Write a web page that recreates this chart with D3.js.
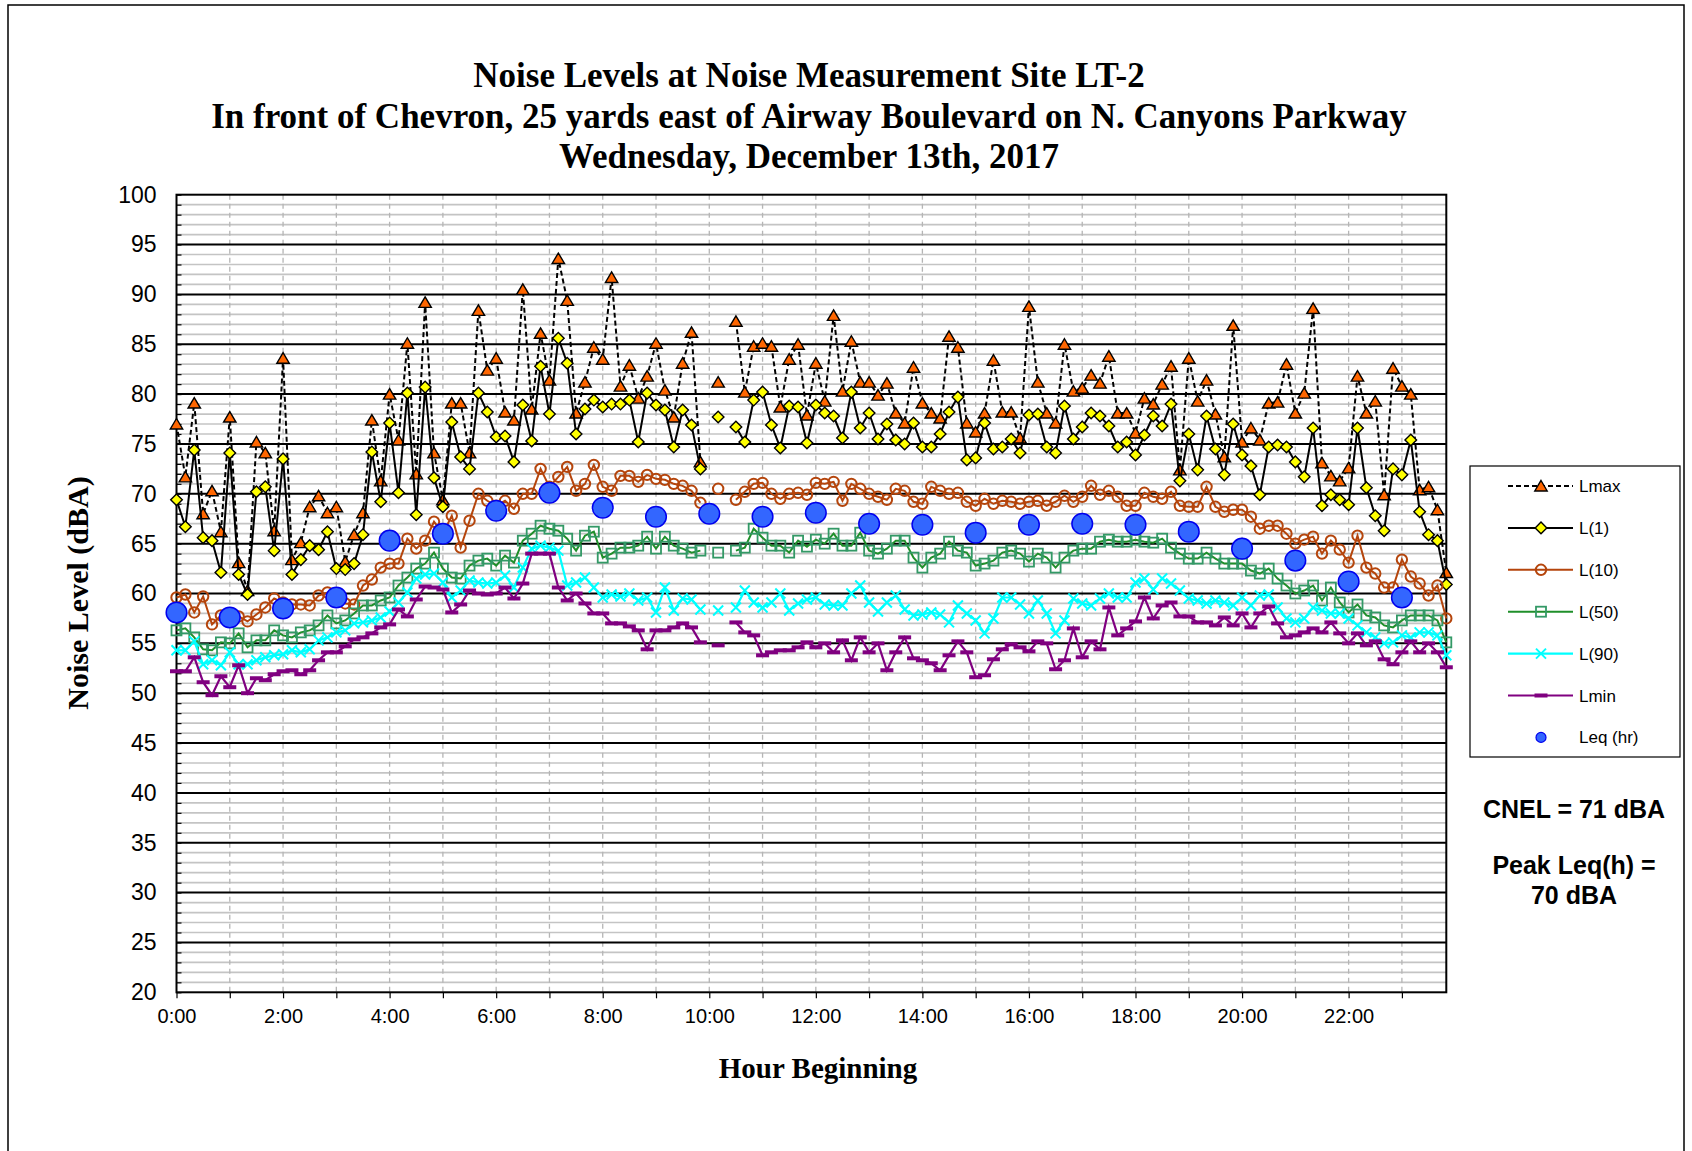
<!DOCTYPE html>
<html><head><meta charset="utf-8">
<script src="https://cdn.jsdelivr.net/npm/d3@7"></script>
<style>body{margin:0;background:#fff}svg{display:block}</style>
</head><body>
<svg id="c" width="1692" height="1151"></svg>
<script>
const titleLines = ["Noise Levels at Noise Measurement Site LT-2",
  "In front of Chevron, 25 yards east of Airway  Boulevard on N. Canyons Parkway",
  "Wednesday,  December 13th, 2017"];
const xTickLabels = ["0:00","2:00","4:00","6:00","8:00","10:00","12:00","14:00","16:00","18:00","20:00","22:00"];
const yTicks = [20,25,30,35,40,45,50,55,60,65,70,75,80,85,90,95,100];
const legendNames = ["Lmax","L(1)","L(10)","L(50)","L(90)","Lmin","Leq (hr)"];

const lmax = [
77.0,71.7,79.1,68.0,70.3,66.2,77.7,63.1,60.3,75.2,74.1,66.3,
83.6,63.4,65.1,68.7,69.8,68.1,68.7,63.2,65.9,68.1,77.4,71.3,
80.0,75.4,85.1,72.0,89.2,74.1,69.4,79.1,79.1,74.1,88.4,82.4,
83.6,78.2,77.4,90.5,78.5,86.1,81.4,93.6,89.4,78.1,81.2,84.7,
83.5,91.7,80.8,82.9,79.6,81.8,85.1,80.4,77.7,83.1,86.2,73.2,
null,81.2,null,87.3,80.2,84.8,85.1,84.8,78.7,83.5,85.0,77.9,
83.1,79.3,87.9,80.3,85.3,81.2,81.2,79.9,81.1,78.1,77.1,82.7,
79.1,78.1,77.6,85.8,84.7,77.1,76.2,78.1,83.4,78.2,78.2,75.6,
88.8,81.2,78.1,77.1,85.0,80.3,80.6,81.9,81.1,83.8,78.1,78.1,
76.1,79.6,79.0,81.0,82.8,72.4,83.6,79.3,81.4,78.0,73.7,86.9,
75.2,76.6,75.4,79.1,79.2,83.0,78.1,80.1,88.6,73.1,71.8,71.3,
72.6,81.8,78.1,79.3,69.9,82.6,80.8,80.0,70.4,70.7,68.4,62.1];
const l1 = [
69.4,66.7,74.4,65.6,65.3,62.1,74.1,61.9,59.9,70.2,70.7,64.3,
73.5,61.9,63.4,64.8,64.4,66.2,62.5,62.4,63.0,65.9,74.2,69.2,
77.1,70.1,80.1,67.9,80.7,71.6,68.7,77.2,73.7,72.5,80.1,78.2,
75.7,75.8,73.2,78.9,75.3,82.8,78.0,85.6,83.1,76.0,78.5,79.4,
78.7,79.0,79.0,79.4,75.2,80.1,78.9,78.4,74.7,78.4,76.9,72.5,
null,77.7,null,76.7,75.2,79.4,80.2,76.9,74.6,78.8,78.7,75.1,
78.9,78.1,77.8,75.6,80.2,76.6,78.1,75.5,77.0,75.4,75.0,77.1,
74.7,74.7,76.0,78.2,79.7,73.4,73.6,77.1,74.5,74.7,75.5,74.1,
77.9,78.0,74.7,74.1,78.8,75.5,76.7,78.1,77.8,76.8,74.7,75.2,
73.9,75.9,77.8,76.8,79.0,71.3,76.0,72.4,77.8,74.5,71.9,77.0,
73.9,72.8,69.9,74.7,74.9,74.7,73.2,71.7,76.6,68.8,69.9,69.4,
68.9,76.6,70.6,67.8,66.3,72.5,71.9,75.4,68.2,65.9,65.3,60.9];
const l10 = [
59.6,59.9,58.1,59.7,56.9,57.8,57.5,57.7,57.2,57.9,58.6,59.5,
59.1,58.9,58.9,58.8,59.8,60.1,59.6,59.0,58.9,60.8,61.4,62.6,
63.0,63.0,65.5,64.5,65.3,67.2,66.0,67.8,64.6,67.3,70.0,69.3,
68.8,69.3,68.5,70.0,70.0,72.5,70.7,71.7,72.7,70.3,71.0,72.9,
70.7,70.3,71.8,71.8,71.2,71.9,71.5,71.4,71.0,70.8,70.3,69.1,
null,70.5,null,69.4,70.2,71.0,71.1,70.0,69.5,70.0,70.1,69.9,
71.1,71.0,71.2,69.3,71.0,70.5,70.0,69.7,69.4,70.5,70.3,69.2,
69.0,70.7,70.3,70.0,70.1,69.2,68.8,69.5,69.0,69.3,69.2,69.0,
69.2,69.3,68.8,69.2,69.8,69.2,69.7,70.8,69.9,70.3,69.7,68.8,
68.8,70.1,69.7,69.5,70.2,68.8,68.7,68.7,70.7,68.7,68.2,68.4,
68.4,67.7,66.5,66.8,66.8,66.0,65.0,65.4,65.7,64.0,65.3,64.4,
63.1,65.8,62.6,62.0,60.6,60.6,63.4,61.7,61.0,59.8,60.8,57.5];
const l50 = [
56.3,56.5,55.6,54.4,54.3,55.1,55.0,56.0,54.6,55.3,55.3,56.3,
55.8,55.6,56.1,56.3,56.8,57.8,57.0,57.3,58.0,58.8,58.8,59.3,
59.6,60.8,61.6,62.5,63.0,64.1,62.5,61.6,61.5,62.8,63.3,63.5,
62.8,63.8,63.1,65.3,66.0,66.8,66.5,66.3,65.5,64.3,65.8,66.2,
63.6,64.0,64.6,64.6,64.8,65.7,64.5,65.7,64.8,64.5,64.1,64.3,
null,64.1,null,64.3,64.6,66.5,65.6,64.8,64.8,64.1,65.3,64.7,
65.4,65.0,66.0,64.8,64.8,66.1,64.3,64.0,64.5,65.3,65.3,63.6,
62.6,63.6,64.0,65.2,64.3,64.1,62.8,63.0,63.3,64.1,64.3,64.0,
63.2,64.0,63.6,62.6,63.6,64.3,64.5,64.5,65.2,65.4,65.2,65.2,
65.4,65.2,65.1,65.5,64.6,64.0,63.5,63.5,64.1,63.5,63.0,63.0,
63.0,62.3,62.0,62.5,61.5,60.8,60.0,60.3,60.8,59.3,60.6,59.1,
58.1,58.9,57.8,57.6,56.8,56.6,57.3,57.8,57.8,57.8,57.3,55.1];
const l90 = [
54.3,54.3,55.2,52.9,53.3,52.8,54.1,52.9,52.9,53.3,53.6,53.8,
53.9,54.3,54.1,54.4,55.3,55.6,56.1,56.3,57.0,57.1,57.3,57.6,
58.2,59.1,60.1,61.5,61.9,62.0,61.1,59.6,60.3,61.3,61.1,61.0,
61.1,61.8,60.6,62.6,64.5,64.8,64.6,64.3,60.8,61.1,61.6,60.6,
59.6,59.9,59.7,60.0,59.3,59.6,58.1,60.6,58.3,59.5,59.4,58.4,
null,58.3,null,58.6,60.3,59.1,58.6,59.1,60.0,58.3,59.0,59.4,
59.6,58.9,58.8,58.8,60.0,60.8,59.1,58.2,59.1,59.8,58.4,57.8,
57.9,58.1,57.9,57.1,58.8,58.0,57.3,56.0,57.5,59.6,59.6,58.9,
58.0,59.3,58.0,56.0,57.3,59.5,59.0,58.8,59.5,60.0,59.6,59.6,
61.1,61.5,60.4,61.5,61.0,60.3,59.5,59.3,59.0,59.3,59.1,58.8,
59.6,58.8,59.8,59.9,58.6,57.5,57.1,57.5,58.6,58.3,58.0,58.0,
57.5,56.8,56.1,55.6,55.0,55.1,55.8,55.6,56.1,56.1,55.8,53.8];
const lmin = [
52.2,52.2,53.6,51.1,49.8,51.7,50.6,52.8,50.0,51.5,51.3,51.9,
52.2,52.3,51.9,52.3,53.3,54.1,54.1,54.7,55.4,55.6,56.0,56.6,
56.9,58.4,57.7,59.4,60.7,60.6,60.4,58.1,58.9,60.3,60.0,59.9,
60.0,60.6,59.5,61.0,64.0,64.0,64.0,60.6,59.3,60.0,59.0,58.0,
58.0,57.0,57.0,56.7,56.3,54.4,56.3,56.3,56.6,57.0,56.6,55.1,
null,54.8,null,57.1,56.1,55.8,53.8,54.1,54.3,54.3,54.6,55.1,
54.6,55.0,54.1,55.3,53.3,55.6,54.1,55.0,52.3,54.1,55.6,53.5,
53.3,53.0,52.3,53.8,55.2,54.1,51.6,51.8,53.4,54.4,54.9,54.6,
54.2,55.2,55.0,52.4,53.3,56.5,53.6,55.2,54.4,58.6,55.8,56.5,
57.2,59.6,57.5,58.8,59.1,57.7,57.7,57.1,57.1,56.8,57.6,56.8,
58.0,56.6,58.0,58.7,57.0,55.6,55.8,56.1,56.5,56.1,57.1,56.0,
55.0,56.0,54.8,55.2,53.4,52.9,54.1,55.2,54.1,55.0,54.1,52.6];
const leq = [58.1,57.6,58.5,59.6,65.3,66.0,68.3,70.1,68.6,67.7,68.0,67.7,
68.1,67.0,66.9,66.1,66.9,67.0,66.9,66.2,64.5,63.3,61.2,59.6];
const cnelText = ["CNEL = 71 dBA", "Peak Leq(h) =", "70 dBA"];

const SERIF = "'Liberation Serif','Times New Roman',serif";
const SANS = "'Liberation Sans',Arial,sans-serif";
const svg = d3.select("#c");

// outer frame
svg.append("rect").attr("x",8).attr("y",5).attr("width",1676).attr("height",1170)
  .attr("fill","none").attr("stroke","#000").attr("stroke-width",1.5);

const x = d3.scaleLinear().domain([0,143]).range([176.5,1446.3]);
const y = d3.scaleLinear().domain([20,100]).range([992.3,194.7]);
const X0 = x.range()[0], X1 = x.range()[1], Y0 = y.range()[1], Y1 = y.range()[0];

const grid = svg.append("g");
grid.selectAll(".mn").data(d3.range(21,100).filter(v=>v%5!==0)).join("line")
  .attr("x1",X0).attr("x2",X1).attr("y1",d=>y(d)).attr("y2",d=>y(d))
  .attr("stroke","#c4c4c4").attr("stroke-width",1.7);
grid.selectAll(".vg").data(d3.range(6,144,6)).join("line")
  .attr("x1",d=>x(d)).attr("x2",d=>x(d)).attr("y1",Y0).attr("y2",Y1)
  .attr("stroke","#b5b5b5").attr("stroke-width",1.3).attr("stroke-dasharray","5,4");
grid.selectAll(".mj").data(yTicks.filter(v=>v>20&&v<100)).join("line")
  .attr("x1",X0).attr("x2",X1).attr("y1",d=>y(d)).attr("y2",d=>y(d))
  .attr("stroke","#000").attr("stroke-width",2);

const ya = svg.append("g").attr("transform",`translate(${X0},0)`)
  .call(d3.axisLeft(y).tickValues(yTicks).tickSize(0).tickPadding(20));
ya.select(".domain").remove();
ya.selectAll("text").attr("font-family",SANS).attr("font-size",23).attr("fill","#000");
const yMinor = svg.append("g").attr("transform",`translate(${X0},0)`)
  .call(d3.axisRight(y).tickValues(d3.range(20,101)).tickSize(5).tickFormat(""));
yMinor.select(".domain").remove();
yMinor.selectAll("line").attr("stroke","#000").attr("stroke-width",1.2);

const xa = svg.append("g").attr("transform",`translate(0,${Y1})`)
  .call(d3.axisBottom(x).tickValues(d3.range(0,144,12)).tickSize(0).tickPadding(17)
    .tickFormat((d,i)=>xTickLabels[i]));
xa.select(".domain").remove();
xa.selectAll("text").attr("font-family",SANS).attr("font-size",20).attr("fill","#000");
const xMinor = svg.append("g").attr("transform",`translate(0,${Y1})`)
  .call(d3.axisBottom(x).tickValues(d3.range(0,144,6)).tickSize(6).tickFormat(""));
xMinor.select(".domain").remove();
xMinor.selectAll("line").attr("stroke","#000").attr("stroke-width",1.2);

svg.append("rect").attr("x",X0).attr("y",Y0).attr("width",X1-X0).attr("height",Y1-Y0)
  .attr("fill","none").attr("stroke","#000").attr("stroke-width",2);

function marker(g, type){
  if(type==="tri") g.append("path").attr("d","M0,-5.5L6.2,5L-6.2,5Z").attr("fill","#ff6600").attr("stroke","#000").attr("stroke-width",1.4);
  else if(type==="dia") g.append("path").attr("d","M0,-5.8L5.8,0L0,5.8L-5.8,0Z").attr("fill","#ffff00").attr("stroke","#000").attr("stroke-width",1.4);
  else if(type==="cir") g.append("circle").attr("r",5.2).attr("fill","none").attr("stroke","#b5450c").attr("stroke-width",2);
  else if(type==="sq") g.append("rect").attr("x",-5).attr("y",-5).attr("width",10).attr("height",10).attr("fill","none").attr("stroke","#339966").attr("stroke-width",1.8);
  else if(type==="x") g.append("path").attr("d","M-5,-5L5,5M-5,5L5,-5").attr("stroke","#00ffff").attr("stroke-width",2);
  else if(type==="bar") g.append("rect").attr("x",-6.5).attr("y",-2).attr("width",13).attr("height",4).attr("fill","#800080");
  else if(type==="leq") g.append("circle").attr("r",10.3).attr("fill","#3366ff").attr("stroke","#0000ee").attr("stroke-width",1.5);
}

const series = [
  {data:lmax, stroke:"#000", dash:"5,3", w:2, m:"tri"},
  {data:l1, stroke:"#000", dash:null, w:2, m:"dia"},
  {data:l10, stroke:"#b5450c", dash:null, w:2, m:"cir"},
  {data:l50, stroke:"#1f8f2a", dash:null, w:2, m:"sq"},
  {data:l90, stroke:"#00ffff", dash:null, w:2.2, m:"x"},
  {data:lmin, stroke:"#800080", dash:null, w:2.2, m:"bar"}
];
const line = d3.line().defined(d=>d!=null).x((d,i)=>x(i)).y(d=>y(d));
const plot = svg.append("g");
series.forEach(s=>{
  plot.append("path").datum(s.data).attr("d",line).attr("fill","none")
    .attr("stroke",s.stroke).attr("stroke-width",s.w).attr("stroke-dasharray",s.dash);
  const pts = s.data.map((v,i)=>({v,i})).filter(p=>p.v!=null);
  plot.append("g").selectAll("g").data(pts).join("g")
    .attr("transform",p=>`translate(${x(p.i)},${y(p.v)})`)
    .each(function(){ marker(d3.select(this), s.m); });
});
plot.append("g").selectAll("g").data(leq.map((v,h)=>({v,i:h*6}))).join("g")
  .attr("transform",p=>`translate(${x(p.i)},${y(p.v)})`)
  .each(function(){ marker(d3.select(this), "leq"); });

const tt = svg.append("g").attr("font-family",SERIF).attr("font-weight","bold")
  .attr("font-size",35).attr("text-anchor","middle").style("white-space","pre");
titleLines.forEach((t,k)=>tt.append("text").attr("x",809).attr("y",87+k*40.5).text(t));

svg.append("text").attr("font-family",SERIF).attr("font-weight","bold").attr("font-size",30)
  .attr("text-anchor","middle").attr("transform","translate(88,593) rotate(-90)").text("Noise Level (dBA)");
svg.append("text").attr("font-family",SERIF).attr("font-weight","bold").attr("font-size",29)
  .attr("text-anchor","middle").attr("x",818).attr("y",1078).text("Hour Beginning");

const lg = svg.append("g");
lg.append("rect").attr("x",1470).attr("y",466).attr("width",210).attr("height",291)
  .attr("fill","#fff").attr("stroke","#000").attr("stroke-width",1.2);
const lgTypes = ["tri","dia","cir","sq","x","bar","leq"];
legendNames.forEach((nm,k)=>{
  const yy = 486 + k*41.9;
  if(k<6){
    const s = series[k];
    lg.append("line").attr("x1",1508).attr("x2",1573).attr("y1",yy).attr("y2",yy)
      .attr("stroke",s.stroke).attr("stroke-width",s.w).attr("stroke-dasharray",s.dash);
    const g = lg.append("g").attr("transform",`translate(1541,${yy})`);
    marker(g, lgTypes[k]);
  } else {
    lg.append("circle").attr("cx",1541).attr("cy",yy).attr("r",5).attr("fill","#3366ff").attr("stroke","#0000ee").attr("stroke-width",1.2);
  }
  lg.append("text").attr("x",1579).attr("y",yy+6).attr("font-family",SANS).attr("font-size",17).text(nm);
});

const ct = svg.append("g").attr("font-family",SANS).attr("font-weight","bold").attr("font-size",25).attr("text-anchor","middle");
ct.append("text").attr("x",1574).attr("y",818).text(cnelText[0]);
ct.append("text").attr("x",1574).attr("y",874).text(cnelText[1]);
ct.append("text").attr("x",1574).attr("y",904).text(cnelText[2]);
</script>
</body></html>
